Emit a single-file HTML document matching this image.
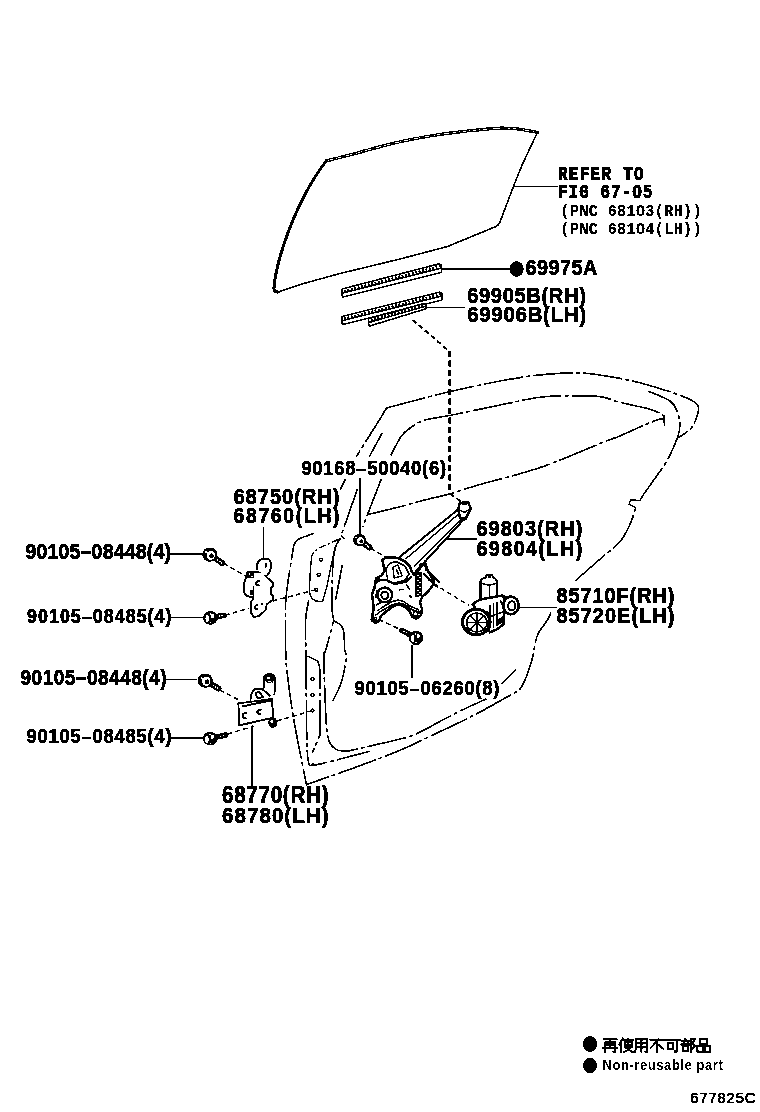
<!DOCTYPE html>
<html><head><meta charset="utf-8"><style>
html,body{margin:0;padding:0;background:#fff;}
svg{display:block;}

text{font-family:"Liberation Sans",sans-serif;fill:#000;}
.lb{font-weight:bold;stroke:#000;stroke-width:0.6px;}
.mo{font-family:"Liberation Mono",monospace;font-weight:bold;stroke:#000;stroke-width:0.9px;}
.lg{font-weight:bold;stroke:none;}
.cd{font-weight:normal;stroke:#000;stroke-width:0.7px;}
.sm{font-family:"Liberation Mono",monospace;font-weight:bold;stroke:#000;stroke-width:0.2px;}
.s1{fill:none;stroke:#000;stroke-width:1.4;}
.s15{fill:#fff;stroke:#000;stroke-width:1.5;stroke-linejoin:round;}
.gtop{fill:none;stroke:#000;stroke-width:3.2;stroke-linecap:round;}
.gtopw{fill:none;stroke:#fff;stroke-width:0.8;stroke-dasharray:7 3;}
.gthin{fill:none;stroke:#000;stroke-width:1.6;stroke-linejoin:round;}
.gthick{fill:none;stroke:#000;stroke-width:3;stroke-linecap:round;}
.s2{fill:none;stroke:#000;stroke-width:2;stroke-linejoin:round;}
.dd{fill:none;stroke:#000;stroke-width:1.6;stroke-dasharray:40 3 4 3;}
.dd2{fill:none;stroke:#000;stroke-width:1.4;stroke-dasharray:7 2.5 2 2.5;}
.dl{fill:none;stroke:#000;stroke-width:1.4;stroke-dasharray:5 3;}
.dsh{fill:none;stroke:#000;stroke-width:2;stroke-dasharray:5 3;}
.dshv{fill:none;stroke:#000;stroke-width:3;stroke-dasharray:6 3.5;}
.hg{fill:#fff;stroke:#000;stroke-width:1.9;stroke-linejoin:round;}
.rg{fill:none;stroke:#000;stroke-width:1.5;stroke-linejoin:round;}
.rgf{fill:#fff;stroke:#000;stroke-width:1.8;stroke-linejoin:round;}
.rgd{fill:none;stroke:#000;stroke-width:1.6;stroke-dasharray:2 1.2;}
.rg2{fill:none;stroke:#000;stroke-width:2;stroke-linejoin:round;}
.rgf2{fill:#fff;stroke:#000;stroke-width:2.5;stroke-linejoin:round;}
.rgs{fill:none;stroke:#000;stroke-width:1.2;}
.hat{fill:none;stroke:#000;stroke-width:2.2;stroke-dasharray:2 1.5;}
</style></head><body>
<svg width="760" height="1112" viewBox="0 0 760 1112">
<defs><filter id="bin" x="0" y="0" width="760" height="1112" filterUnits="userSpaceOnUse" color-interpolation-filters="sRGB">
<feComponentTransfer><feFuncR type="discrete" tableValues="0 1"/><feFuncG type="discrete" tableValues="0 1"/><feFuncB type="discrete" tableValues="0 1"/><feFuncA type="discrete" tableValues="0 1"/></feComponentTransfer>
</filter></defs>
<rect width="760" height="1112" fill="#fff"/>
<g filter="url(#bin)">
<rect width="760" height="1112" fill="#fff"/>
<path class="gtop" d="M326.3,160.8 C330.52,159.75 343.88,156.52 351.6,154.5 C359.32,152.48 364.53,150.82 372.6,148.7 C380.67,146.58 390.43,143.92 400,141.8 C409.57,139.68 420.00,137.67 430,136 C440.00,134.33 448.33,133.10 460,131.8 C471.67,130.50 490.00,128.62 500,128.2 C510.00,127.78 513.77,128.60 520,129.3 C526.23,130.00 534.50,131.88 537.4,132.4" />
<path class="gtopw" d="M326.3,160.8 C330.52,159.75 343.88,156.52 351.6,154.5 C359.32,152.48 364.53,150.82 372.6,148.7 C380.67,146.58 390.43,143.92 400,141.8 C409.57,139.68 420.00,137.67 430,136 C440.00,134.33 448.33,133.10 460,131.8 C471.67,130.50 490.00,128.62 500,128.2 C510.00,127.78 513.77,128.60 520,129.3 C526.23,130.00 534.50,131.88 537.4,132.4" />
<path class="gthin" d="M537.4,132.4 L522.1,165 L514,185 L500,222 Q499,225 496,226.5" />
<path class="gthin" d="M496,226.5 L447.5,246.5 L400,259 L340,273.5 L300,284.5 L278,292" />
<path class="gthick" d="M278,292 Q273.5,292.5 274,288 C276,260 296,200 326.3,160.8" />
<path class="s1" d="M513.4,186.4 H558" />
<path class="s1" d="M442,268.8 H510" />
<ellipse cx="516.6" cy="269" rx="7.1" ry="7.7" fill="#000"/>
<path class="s1" d="M426.3,307.4 H465" />
<path class="s15" d="M342,289 L439.3,263.7 L441.3,265.2 L441.3,272.4 L343,297 L342,295.5 Z" />
<path class="s1" d="M343,293 L441.3,268.05" />
<path class="hat" d="M344,291 L440.3,265.875" />
<path class="s15" d="M342,316.6 L440,292 L442,293.5 L442,300 L343,324.5 L342,323 Z" />
<path class="s1" d="M343,320.55 L442,296" />
<path class="hat" d="M344,318.575 L441,294" />
<path class="s15" d="M368.7,318.5 L424,303.5 L426,305 L426,308.7 L369.7,326 L368.7,324.5 Z" />
<path class="s1" d="M369.7,322.25 L426,306.1" />
<path class="hat" d="M370.7,320.375 L425,304.8" />
<path class="dsh" d="M412.6,320 L448.4,350.5" />
<path class="dshv" d="M449.6,351 V493" />
<path class="dsh" d="M450,493.5 L461,501.6" />
<path class="dd" d="M386.5,408 C395.42,405.67 421.08,398.50 440,394 C458.92,389.50 483.33,384.18 500,381 C516.67,377.82 528.33,376.25 540,374.9 C551.67,373.55 561.67,373.10 570,372.9 C578.33,372.70 582.50,372.93 590,373.7 C597.50,374.47 606.67,375.98 615,377.5 C623.33,379.02 631.50,380.63 640,382.8 C648.50,384.97 658.58,388.12 666,390.5 C673.42,392.88 679.67,395.12 684.5,397.1 C689.33,399.08 692.70,400.87 695,402.4 C697.30,403.93 697.87,404.33 698.3,406.3 C698.73,408.27 698.70,410.68 697.6,414.2 C696.50,417.72 694.87,423.45 691.7,427.4 C688.53,431.35 680.78,436.15 678.6,437.9" />
<path class="dd" d="M386.5,408 L380.8,417.6 L356.3,456.6" />
<path class="dd" d="M345.4,479.2 L340.1,489.7" />
<path class="dd" d="M390.9,455.5 C392.52,452.45 397.42,441.78 400.6,437.2 C403.78,432.62 405.93,430.87 410,428 C414.07,425.13 418.42,422.08 425,420 C431.58,417.92 437.00,418.00 449.5,415.5 C462.00,413.00 484.92,408.05 500,405 C515.08,401.95 528.33,398.72 540,397.2 C551.67,395.68 560.00,396.00 570,395.9 C580.00,395.80 591.67,395.52 600,396.6 C608.33,397.68 612.28,400.45 620,402.4 C627.72,404.35 639.50,406.43 646.3,408.3 C653.10,410.17 657.62,411.95 660.8,413.6 C663.98,415.25 664.63,417.43 665.4,418.2" />
<path class="s1" d="M664,415 L664.3,425.5" />
<path class="dd" d="M381.2,479.3 L368.2,512.7 L362.8,527" />
<path class="dd" d="M367.1,514.7 C372.58,513.38 391.18,509.05 400,506.8 C408.82,504.55 411.67,503.38 420,501.2 C428.33,499.02 440.00,496.47 450,493.7 C460.00,490.93 465.00,488.97 480,484.6 C495.00,480.23 519.58,474.52 540,467.5 C560.42,460.48 589.17,447.77 602.5,442.5 C615.83,437.23 613.13,438.75 620,435.9 C626.87,433.05 637.33,428.13 643.7,425.4 C650.07,422.67 654.58,420.70 658.2,419.5 C661.82,418.30 664.20,418.42 665.4,418.2" />
<path class="dd" d="M382.2,432.9 L369.3,456.6" />
<path class="dd" d="M357.4,489 L341.2,535.4" />
<path class="s1" d="M341.2,535.4 L344.5,539" />
<path class="dd" d="M340.5,538.4 C339.37,541.03 335.12,543.15 333.7,554.2 C332.28,565.25 332.00,593.65 332,604.7 C332.00,615.75 333.42,617.87 333.7,620.5 C332.38,625.42 327.46,644.08 325.8,650 C324.14,655.92 323.88,648.50 323.75,656 C323.62,663.50 324.38,681.83 325,695 C325.62,708.17 325.83,726.04 327.5,735 C329.17,743.96 331.67,746.04 335,748.75 C338.33,751.46 345.42,750.83 347.5,751.25 C356.25,749.21 388.18,742.08 400,739 C411.82,735.92 409.18,737.07 418.4,732.8 C427.62,728.53 443.93,719.08 455.3,713.4 C466.67,707.72 481.38,701.15 486.6,698.7" />
<path class="dd" d="M501.3,684 L516,669.2" />
<path class="dd" d="M333.7,620.5 C335.25,621.82 341.17,623.48 343,628.4 C344.83,633.32 344.16,645.15 344.7,650 C345.24,654.85 346.82,652.08 346.25,657.5 C345.68,662.92 343.54,675.21 341.25,682.5 C338.96,689.79 333.96,698.12 332.5,701.25" />
<path class="dd" d="M342.4,564.5 L335.5,600" />
<path class="dd" d="M314.2,533.2 C311.83,534.08 303.12,536.95 300,538.5 C296.88,540.05 296.63,540.75 295.5,542.5 C294.37,544.25 294.75,540.12 293.2,549 C291.65,557.88 287.47,583.13 286.2,595.8 C284.93,608.47 285.63,614.30 285.6,625 C285.57,635.70 285.45,649.77 286,660 C286.55,670.23 287.78,677.50 288.9,686.4 C290.02,695.30 291.10,703.63 292.7,713.4 C294.30,723.17 296.20,733.13 298.5,745 C300.80,756.87 305.17,778.00 306.5,784.6 C314.58,781.75 339.42,773.22 355,767.5 C370.58,761.78 388.82,754.87 400,750.3 C411.18,745.73 409.82,745.93 422.1,740.1 C434.38,734.27 458.97,722.82 473.7,715.3 C488.43,707.78 502.83,699.30 510.5,695 C518.17,690.70 516.93,692.88 519.7,689.5 C522.47,686.12 524.97,680.03 527.1,674.7 C529.23,669.37 530.77,664.12 532.5,657.5 C534.23,650.88 535.00,641.25 537.5,635 C540.00,628.75 545.25,623.75 547.5,620 C549.75,616.25 550.42,613.75 551,612.5" />
<path class="dd" d="M575,581 C579.00,577.50 591.50,566.57 599,560 C606.50,553.43 614.75,547.73 620,541.6 C625.25,535.47 627.87,528.90 630.5,523.2 C633.13,517.50 634.92,510.03 635.8,507.4" />
<path class="s1" d="M635.8,507.4 L629.2,504.7 L630.5,499.5 L639.7,500.8" />
<path class="dd" d="M639.7,500.8 C640.37,499.70 640.85,498.37 643.7,494.2 C646.55,490.03 652.85,481.50 656.8,475.8 C660.75,470.10 663.88,466.58 667.4,460 C670.92,453.42 675.82,442.40 677.9,436.3 C679.98,430.20 680.12,427.73 679.9,423.4 C679.68,419.07 678.25,414.03 676.6,410.3 C674.95,406.57 674.72,404.18 670,401 C665.28,397.82 651.92,392.83 648.3,391.2" />
<path class="dd" d="M308.8,600 C308.27,603.33 306.07,610.83 305.6,620 C305.13,629.17 305.68,632.50 306,655 C306.32,677.50 306.21,736.88 307.5,755 C308.79,773.12 312.71,762.29 313.75,763.75 C314.12,763.96 306.62,767.08 316,765 C325.38,762.92 361.00,753.54 370,751.25" />
<path class="dd2" d="M338.4,539.5 L322.6,546.3 Q313,551 311.6,556" />
<path class="s1" d="M311.6,556 L310,575 L309.5,590.5 Q310,599.5 316,601 L322.5,601.6 L327,586 L331,566 L336,545" />
<path class="dd" d="M307.5,656 L317.5,661 Q320,665 320,675 L320,735 L312.5,752.5" />
<circle cx="321" cy="559.7" r="1.6" class="s1"/>
<circle cx="318.7" cy="574.7" r="1.6" class="s1"/>
<circle cx="316.3" cy="589.7" r="1.6" class="s1"/>
<circle cx="312.5" cy="679" r="1.6" class="s1"/>
<circle cx="312.5" cy="695" r="1.6" class="s1"/>
<circle cx="312.5" cy="710.5" r="1.6" class="s1"/>
<path class="dl" d="M223.3,563.3 L246.4,576.3" />
<path class="dl" d="M224.7,615.4 L249.3,608.2" />
<path class="dl" d="M272.5,601 L316.3,589.7" />
<path class="dl" d="M219.7,689.8 L241.4,701.4" />
<path class="dl" d="M227.6,734 L253.7,726" />
<path class="dl" d="M276.8,721 L312.5,710.5" />
<path class="dl" d="M370.5,548 L386,557.5" />
<path class="dl" d="M433.4,583.7 L469,605.5" />
<path class="dl" d="M378.7,619.5 L400.4,629.5" />
<path class="s1" d="M263.3,527 V559" />
<path class="s1" d="M252.2,725.3 V788" />
<path class="s1" d="M170,554 H202.3" />
<path class="s1" d="M171.25,617.5 H203.7" />
<path class="s1" d="M165,679.5 H197.2" />
<path class="s1" d="M171.25,738 H203" />
<path class="s1" d="M360,478 V534" />
<path class="s1" d="M444.9,539 H476.8" />
<path class="s1" d="M518.4,607.5 H556.8" />
<path class="s1" d="M411.8,644.9 V678" />
<path d="M209.8,554.6 L222.5,563.3" stroke="#000" stroke-width="6" stroke-linecap="round" fill="none"/>
<circle cx="217.7" cy="560.0" r="0.9" fill="#fff"/>
<circle cx="219.7" cy="561.4" r="0.9" fill="#fff"/>
<circle cx="221.6" cy="562.7" r="0.9" fill="#fff"/>
<ellipse cx="209.8" cy="554.6" rx="7.6" ry="7.2" fill="#000"/>
<ellipse cx="210.8" cy="555.3" rx="4.2" ry="4.6" fill="#fff"/>
<ellipse cx="211.6" cy="555.8" rx="2.3" ry="2.5" fill="#000"/>
<circle cx="206.2" cy="552.1" r="1" fill="#fff"/>
<path d="M205.2,680.6 L218.5,688.5" stroke="#000" stroke-width="6" stroke-linecap="round" fill="none"/>
<circle cx="213.4" cy="685.5" r="0.9" fill="#fff"/>
<circle cx="215.6" cy="686.8" r="0.9" fill="#fff"/>
<circle cx="217.6" cy="687.9" r="0.9" fill="#fff"/>
<ellipse cx="205.2" cy="680.6" rx="7.6" ry="7.2" fill="#000"/>
<ellipse cx="206.2" cy="681.2" rx="4.2" ry="4.6" fill="#fff"/>
<ellipse cx="207.1" cy="681.7" rx="2.3" ry="2.5" fill="#000"/>
<circle cx="201.6" cy="678.2" r="1" fill="#fff"/>
<path d="M359.5,540.0 L369.5,547.5" stroke="#000" stroke-width="6" stroke-linecap="round" fill="none"/>
<circle cx="365.7" cy="544.6" r="0.9" fill="#fff"/>
<circle cx="367.3" cy="545.9" r="0.9" fill="#fff"/>
<circle cx="368.8" cy="547.0" r="0.9" fill="#fff"/>
<ellipse cx="359.5" cy="540.0" rx="6.4" ry="6.1" fill="#000"/>
<ellipse cx="360.5" cy="540.7" rx="3.5" ry="3.8" fill="#fff"/>
<ellipse cx="361.3" cy="541.3" rx="1.9" ry="2.1" fill="#000"/>
<circle cx="355.9" cy="537.4" r="1" fill="#fff"/>
<path d="M210.4,617.8 L224.0,615.2" stroke="#000" stroke-width="5.5" stroke-linecap="round" fill="none"/>
<circle cx="219.6" cy="616.0" r="0.8" fill="#fff"/>
<circle cx="222.1" cy="615.6" r="0.8" fill="#fff"/>
<ellipse cx="210.4" cy="617.8" rx="7.4" ry="6.9" fill="#000"/>
<ellipse cx="207.2" cy="618.6" rx="1.7" ry="3.6" fill="#fff"/>
<ellipse cx="212.6" cy="616.0" rx="1.6" ry="2.2" fill="#fff"/>
<circle cx="210.2" cy="614.0" r="0.8" fill="#fff"/><circle cx="210.4" cy="622.8" r="0.7" fill="#fff"/>
<path d="M210.2,738.6 L225.5,735.0" stroke="#000" stroke-width="5.5" stroke-linecap="round" fill="none"/>
<circle cx="220.6" cy="736.2" r="0.8" fill="#fff"/>
<circle cx="223.4" cy="735.5" r="0.8" fill="#fff"/>
<ellipse cx="210.2" cy="738.6" rx="7.4" ry="6.9" fill="#000"/>
<ellipse cx="207.0" cy="739.4" rx="1.7" ry="3.6" fill="#fff"/>
<ellipse cx="212.4" cy="736.8" rx="1.6" ry="2.2" fill="#fff"/>
<circle cx="210.0" cy="734.8" r="0.8" fill="#fff"/><circle cx="210.2" cy="743.6" r="0.7" fill="#fff"/>
<path d="M416.0,637.8 L402.0,630.5" stroke="#000" stroke-width="5.5" stroke-linecap="round" fill="none"/>
<circle cx="406.5" cy="632.8" r="0.8" fill="#fff"/>
<circle cx="404.0" cy="631.5" r="0.8" fill="#fff"/>
<ellipse cx="416.0" cy="637.8" rx="7.2" ry="7.2" fill="#000"/>
<ellipse cx="412.8" cy="638.6" rx="1.7" ry="3.6" fill="#fff"/>
<ellipse cx="418.2" cy="636.0" rx="1.6" ry="2.2" fill="#fff"/>
<circle cx="415.8" cy="634.0" r="0.8" fill="#fff"/><circle cx="416.0" cy="642.8" r="0.7" fill="#fff"/>
<path class="hg" d="M255.5,571.4 L263.1,572.5 L266.6,577.2 L273,582.5 L273,586.5 L270.7,587.7 L270.7,594.1 L273,595.9 L273,599.4 L266.6,604.6 L266,609.3 L262.5,612.8 L258.4,616.3 L253.8,616.9 L251.4,613.4 L250.6,607.6 L250.9,601.7 L253.2,599.4 L253.2,591.2 L252,579.5 L253.8,572.5 Z" />
<path class="hg" d="M257.3,570.2 L257.3,563.8 Q259,560 262,559.2 L267.2,558.5 Q270.4,560 270.6,562 L271.3,567.3 L269.5,572 L266.6,576" />
<path class="hg" d="M253.8,571.9 L247.3,572.5 L245.6,578.4 L243.8,584.2 L243.8,592.4 L246.8,595.9 L252.6,597.6" />
<rect x="247.3" y="571.8" width="6.5" height="6.5" fill="#000"/>
<circle cx="249.5" cy="574" r="0.8" fill="#fff"/><circle cx="252" cy="576.3" r="0.8" fill="#fff"/>
<rect x="250.3" y="590" width="3.2" height="5" fill="#000"/>
<path class="hg" d="M265,563 Q267.5,565 265,567.5 M260.2,581 Q256,581 256,584 Q256,585.5 259.5,585.5 M258.4,605 Q254.5,605.5 254.6,607.5 Q254.5,609.5 258,609.3 M261,603 L263,604.5" />
<path class="hg" d="M238.4,703.4 L271.9,699 L273.2,717.6 L239.1,725.5 Z" />
<path class="hg" d="M242.2,706.5 L271.9,700.2" />
<path class="hg" d="M250.4,700.8 L251,694.5 L254.2,689.5 L261.8,688.8 L264.3,690.7 L270.6,696.4" />
<path class="hg" d="M255.5,693 L259,691.5 L263,697 L257.5,698.5 Z" />
<path class="hg" d="M263.7,688.8 L263.7,678.1 Q265,674.3 268.5,674.2 L271.9,674.3 Q275,676 275,679 L275,684.4 L274.4,695.2" />
<ellipse cx="272.8" cy="722.5" rx="4.6" ry="5.3" fill="#000"/><ellipse cx="271.8" cy="721.5" rx="1.6" ry="1.8" fill="#fff"/>
<ellipse cx="269.6" cy="679.2" rx="4.6" ry="4.4" fill="#000"/><ellipse cx="268.6" cy="678" rx="1.8" ry="1.2" fill="#fff"/><path d="M267,681 Q270,680.5 272,683" stroke="#fff" stroke-width="0.9" fill="none"/>
<path class="hg" d="M246.8,713 Q242.5,713 242.5,716 Q242.5,718.5 246.5,718.3 M261.5,709.5 Q257.5,709.5 257.3,712 Q257.3,714.5 261,714.5" />
<path class="rg2" d="M458,509.5 L398.9,557.6 M466,517 L410,578" />
<path class="rg" d="M461,512 L405.3,559.2 M463,517.5 L413.9,566.3" />
<path class="rgf2" d="M460,502.9 L467.9,502.1 L471,508.2 L469.5,511.3 L465.3,519.2 L460,517.6 L458.4,510.8 L458.9,505 Z" />
<path class="rg" d="M459,510 L465,512.5 L469.5,509 M462,504.5 L467,504" />
<path class="rgf2" d="M382.5,560 L386,557.5 L392.5,557 L399,558.5 L405,561.5 L410,566.5 L411.5,571 L414,575 L418,571 L422,565 L425.5,563.5 L427,569 L431,576 L434,580.5 L433,585 L428.5,591 L422,597 L420,602.5 L422,609 L421,615 L416.5,618.5 L412,616.5 L409.5,611 L404.5,606.6 L398.9,604.2 L392.6,606.6 L380.8,616 L379.5,620.5 L375.3,623.1 L371.7,619.2 L373.7,608.2 L372.1,594.7 L374.5,587.5 L376,578.5 L381.5,575.5 L385,570 L383,564 Z" />
<path class="rg" d="M377,611 L383,607 L391,602 L398,600 L404,601.5 L410,606 L418,609.5 L419.5,613.5" />
<path class="rg" d="M376,605 L381,602.5 M375.5,598 L377,590" />
<path class="rg" d="M386,570 Q388,561 397,562 L405,566 L409,574 L405,580 L395,583 L388,582 Z" />
<path class="rg" d="M393,567 L398,565 L402,576 L394,578 Z" />
<path class="rg" d="M396,569 L399,575" />
<path class="rg2" d="M425,560 L425.8,571 M410,578 L405,583" />
<rect x="415.3" y="572" width="6.6" height="25" fill="#000"/>
<rect x="417" y="575" width="1.6" height="1.4" fill="#fff"/><rect x="419.5" y="577" width="1.4" height="1.2" fill="#fff"/>
<rect x="417" y="580" width="1.6" height="1.4" fill="#fff"/><rect x="419.5" y="582" width="1.4" height="1.2" fill="#fff"/>
<rect x="417" y="585" width="1.6" height="1.4" fill="#fff"/><rect x="419.5" y="587" width="1.4" height="1.2" fill="#fff"/>
<rect x="417" y="590" width="1.6" height="1.4" fill="#fff"/><rect x="419.5" y="592" width="1.4" height="1.2" fill="#fff"/>
<rect x="417" y="594" width="1.6" height="1.4" fill="#fff"/><rect x="419.5" y="596" width="1.4" height="1.2" fill="#fff"/>
<path class="rg2" d="M423,573 L438,587.5 M425.5,569 L440,583 M427,577 L433,583" />
<path class="rg2" d="M376,583 Q380,579 386,580 L395,584 L405,582 L412,576" />
<path class="rg" d="M375,615.5 L382,610.5 L392,605 L399,603 L405,604.5 L411,609 L418,612" />
<circle cx="378" cy="578.5" r="2" fill="#000"/><circle cx="421.5" cy="565" r="2.2" fill="#000"/><circle cx="430" cy="580" r="1.6" fill="#000"/><circle cx="373" cy="620" r="2.4" fill="#000"/>
<circle cx="384.7" cy="594.9" r="7.4" fill="#fff" stroke="#000" stroke-width="2.4"/><circle cx="384.9" cy="595.3" r="3.6" fill="#fff" stroke="#000" stroke-width="2"/>
<circle cx="415.5" cy="613.7" r="2.2" class="s1"/><circle cx="374.8" cy="619" r="1.8" class="s1"/><circle cx="377.5" cy="580" r="1.5" class="s1"/>
<path class="rg" d="M399,591 Q401,588 404,590 M384,612 L388,610 M406,584 L410,590 M409,595 L412,598" />
<path class="rg2" d="M480.5,602 L480.5,581 Q481,578.5 485.8,577.6 L486.3,575.5 L492.1,575 L493.2,577.6 Q497,579 497.4,583 L497.4,597" />
<path class="rg" d="M489.5,584 L489.5,601.8 M481,583 Q489,587 497,583 M488,577 L491,577" />
<path class="rgf2" d="M472.6,604 L479.5,599.7 L496.3,596.6 L502.6,595.5 L504.7,599.7 L503.7,624 L497.4,629.2 L490,632.4 Z" />
<path class="rg" d="M490,605 L490,628 M493.5,603 L493.5,628 M497,602 L497,626 M500,600 L503,606 M491,616 L503,612" />
<path d="M497,626 L503.5,622 L503.5,616 L498,619 Z" fill="#000"/>
<ellipse cx="476.3" cy="622" rx="13.8" ry="12.8" fill="#fff" stroke="#000" stroke-width="3"/>
<path class="rg2" d="M487,611 Q492,621 486,633" />
<ellipse cx="476.8" cy="622.5" rx="10.2" ry="9.4" fill="none" stroke="#000" stroke-width="1.5"/>
<path class="rgs" d="M477,613.5 L477,631.5 M467.5,622.5 L486,622.5 M470.5,616 L483.5,629 M483.5,616 L470.5,629" />
<path d="M482,628 L487,631 L484,634 Z M465,626 L468,631 L471,630 Z" fill="#000"/>
<ellipse cx="511" cy="605.4" rx="7.8" ry="8.8" fill="#fff" stroke="#000" stroke-width="2.6"/>
<ellipse cx="511.8" cy="605.8" rx="3.6" ry="4.6" fill="#fff" stroke="#000" stroke-width="2"/>
<path class="rg" d="M502.6,595.5 L508,597 M503,614 L507,613" />
<ellipse cx="590" cy="1044" rx="7" ry="7.9" fill="#000"/>
<ellipse cx="590" cy="1065.5" rx="7" ry="7.6" fill="#000"/>
<path transform="translate(603.20,1038.6) scale(1.4,1.33)" d="M0.3,0.6 L9.7,0.6 M1.5,2.9 L1.5,10 M1.5,2.9 L8.5,2.9 L8.5,9.8 L7.3,9.8 M5,0.6 L5,7.2 M1.5,5 L8.5,5 M0,7.2 L10,7.2" fill="none" stroke="#000" stroke-width="1.45" stroke-linecap="square"/>
<path transform="translate(618.80,1038.6) scale(1.4,1.33)" d="M2.8,0 L0.3,4.5 M1.6,2.8 L1.6,10 M3.6,1 L10,1 M6.8,0 L6.8,6.6 M4.4,2.6 L9.2,2.6 L9.2,5.2 L4.4,5.2 Z M4.6,6.6 L9.7,10 M9.2,6.3 L3.8,10" fill="none" stroke="#000" stroke-width="1.45" stroke-linecap="square"/>
<path transform="translate(634.40,1038.6) scale(1.4,1.33)" d="M1,0.6 L1,8 L0.2,10 M1,0.6 L9,0.6 L9,9.8 L7.8,9.8 M1,3.6 L9,3.6 M1,6.6 L9,6.6 M5,0.6 L5,10" fill="none" stroke="#000" stroke-width="1.45" stroke-linecap="square"/>
<path transform="translate(650.00,1038.6) scale(1.4,1.33)" d="M0.3,0.8 L9.7,0.8 M6,0.8 L0.5,7 M5,3.6 L5,10 M6.5,5 L9.3,7.6" fill="none" stroke="#000" stroke-width="1.45" stroke-linecap="square"/>
<path transform="translate(665.60,1038.6) scale(1.4,1.33)" d="M0,1 L10,1 M8,1 L8,9.7 L6.4,9.7 M1.6,3.6 L5.6,3.6 L5.6,7.6 L1.6,7.6 Z" fill="none" stroke="#000" stroke-width="1.45" stroke-linecap="square"/>
<path transform="translate(681.20,1038.6) scale(1.4,1.33)" d="M3,0 L3,1.3 M0.6,1.6 L5.8,1.6 M1.6,2.6 L2.1,4 M4.8,2.6 L4.2,4 M0,4.4 L6.2,4.4 M1,5.8 L5,5.8 L5,9.6 L1,9.6 Z M7.1,0.5 L7.1,10 M7.1,0.6 L9.7,0.6 L8.3,3.6 L9.8,5.6 L8.6,7.3 L7.8,7.1" fill="none" stroke="#000" stroke-width="1.45" stroke-linecap="square"/>
<path transform="translate(696.80,1038.6) scale(1.4,1.33)" d="M2.5,0.4 L7.5,0.4 L7.5,4 L2.5,4 Z M0.4,5.6 L4.4,5.6 L4.4,9.8 L0.4,9.8 Z M5.6,5.6 L9.6,5.6 L9.6,9.8 L5.6,9.8 Z" fill="none" stroke="#000" stroke-width="1.45" stroke-linecap="square"/>
<text class="mo" transform="translate(558.00,180.25) scale(0.760,1)" font-size="20.95" textLength="112.63" lengthAdjust="spacing">REFER TO</text>
<text class="mo" transform="translate(558.00,198.35) scale(0.760,1)" font-size="20.95" textLength="124.21" lengthAdjust="spacing">FIG 67-O5</text>
<text class="lb" transform="translate(525.60,275.08) scale(0.900,1)" font-size="22.03" textLength="79.78" lengthAdjust="spacing">69975A</text>
<text class="lb" transform="translate(467.20,303.18) scale(0.900,1)" font-size="22.46" textLength="132.00" lengthAdjust="spacing">69905B(RH)</text>
<text class="lb" transform="translate(467.20,321.68) scale(0.900,1)" font-size="22.88" textLength="132.00" lengthAdjust="spacing">69906B(LH)</text>
<text class="lb" transform="translate(301.40,475.40) scale(0.900,1)" font-size="20.34" textLength="160.67" lengthAdjust="spacing">90168–50040(6)</text>
<text class="lb" transform="translate(233.50,504.28) scale(0.900,1)" font-size="22.53" textLength="117.78" lengthAdjust="spacing">68750(RH)</text>
<text class="lb" transform="translate(233.50,523.09) scale(0.900,1)" font-size="21.47" textLength="117.78" lengthAdjust="spacing">68760(LH)</text>
<text class="lb" transform="translate(476.40,535.73) scale(0.900,1)" font-size="22.10" textLength="117.78" lengthAdjust="spacing">69803(RH)</text>
<text class="lb" transform="translate(476.40,555.73) scale(0.900,1)" font-size="22.10" textLength="117.78" lengthAdjust="spacing">69804(LH)</text>
<text class="lb" transform="translate(25.40,559.39) scale(0.900,1)" font-size="21.75" textLength="161.78" lengthAdjust="spacing">90105–08448(4)</text>
<text class="lb" transform="translate(27.00,622.51) scale(0.900,1)" font-size="19.92" textLength="160.56" lengthAdjust="spacing">90105–08485(4)</text>
<text class="lb" transform="translate(556.40,603.38) scale(0.900,1)" font-size="22.17" textLength="131.22" lengthAdjust="spacing">85710F(RH)</text>
<text class="lb" transform="translate(556.40,623.38) scale(0.900,1)" font-size="22.17" textLength="131.22" lengthAdjust="spacing">85720E(LH)</text>
<text class="lb" transform="translate(20.50,685.39) scale(0.900,1)" font-size="21.26" textLength="162.33" lengthAdjust="spacing">90105–08448(4)</text>
<text class="lb" transform="translate(354.40,695.40) scale(0.900,1)" font-size="20.34" textLength="161.11" lengthAdjust="spacing">90105–06260(8)</text>
<text class="lb" transform="translate(26.40,743.40) scale(0.900,1)" font-size="20.34" textLength="161.22" lengthAdjust="spacing">90105–08485(4)</text>
<text class="lb" transform="translate(222.00,803.38) scale(0.900,1)" font-size="23.02" textLength="118.44" lengthAdjust="spacing">68770(RH)</text>
<text class="lb" transform="translate(222.00,822.68) scale(0.900,1)" font-size="22.88" textLength="118.44" lengthAdjust="spacing">68780(LH)</text>
<text class="sm" transform="translate(560.60,216.34) scale(0.920,1)" font-size="16.35" textLength="153.15" lengthAdjust="spacing">(PNC 681O3(RH))</text>
<text class="sm" transform="translate(560.60,234.44) scale(0.920,1)" font-size="16.35" textLength="153.15" lengthAdjust="spacing">(PNC 681O4(LH))</text>
<text class="lg" transform="translate(602.60,1070.20) scale(0.860,1)" font-size="15.12" textLength="139.77" lengthAdjust="spacing">Non-reusable part</text>
<text class="cd" transform="translate(690.30,1102.71) scale(1.000,1)" font-size="14.69" textLength="65.10" lengthAdjust="spacing">677825C</text>
</g>
</svg>
</body></html>
